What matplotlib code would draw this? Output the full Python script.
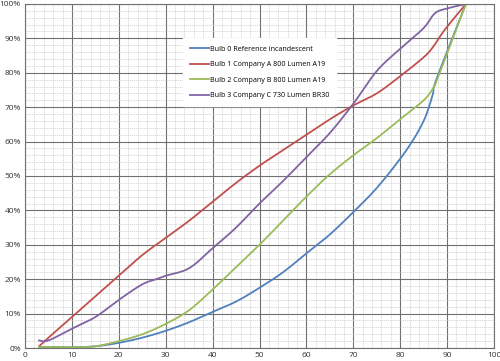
import numpy as np
import matplotlib.pyplot as plt
from matplotlib.ticker import MultipleLocator, FuncFormatter

# Data (x, percent)
bulb0_x = [3, 5, 10, 15, 20, 25, 30, 35, 40, 45, 50, 55, 60, 65, 70, 75, 80, 83, 85, 86, 87, 87.8, 94]
bulb0_y = [0, 0.3, 0.2, 0.5, 1.5, 3, 5, 7.5, 10.5, 13.5, 17.5, 22, 27.5, 33, 39.5, 46.5, 55, 61, 66, 69.5, 74, 78.4, 100]

bulb1_x = [3, 5, 10, 15, 20, 25, 30, 35, 40, 45, 50, 55, 60, 65, 70, 75, 80, 85, 87, 89.5, 94]
bulb1_y = [0.5, 3, 9, 15, 21, 27, 32, 37, 42.5, 48, 53, 57.5, 62, 66.5, 70.5, 74, 79, 84.5, 87.5, 92.5, 100]

bulb2_x = [3, 5, 10, 15, 20, 25, 30, 35, 40, 45, 50, 55, 60, 65, 70, 75, 80, 85, 87, 88, 94]
bulb2_y = [0.3, 0.3, 0.2, 0.5, 2, 4, 7, 11, 17, 23.5, 30, 37, 44, 50.5, 56, 61, 66.5, 72, 75.5, 78.5, 100]

bulb3_x = [3, 5, 10, 15, 20, 25, 28, 30, 35, 40, 45, 50, 55, 60, 65, 70, 75, 80, 85, 87.4, 90, 94]
bulb3_y = [2.2, 2.2, 5.6, 9, 14, 18.5, 20, 21, 23.2, 29, 35, 42, 48.5, 55.5, 62.5, 71, 80.5, 87, 93, 97.3, 98.7, 100]

labels = ['Bulb 0 Reference incandescent',
          'Bulb 1 Company A 800 Lumen A19',
          'Bulb 2 Company B 800 Lumen A19',
          'Bulb 3 Company C 730 Lumen BR30']
colors = ['#4F81BD', '#C0504D', '#9BBB59', '#8064A2']


def smooth(xs, ys, n=12):
    # Catmull-Rom through the points, like Excel's smoothed line
    p = np.column_stack([xs, ys]).astype(float)
    p = np.vstack([p[0], p, p[-1]])
    out = []
    t = np.linspace(0, 1, n, endpoint=False)[:, None]
    for i in range(1, len(p) - 2):
        p0, p1, p2, p3 = p[i - 1], p[i], p[i + 1], p[i + 2]
        seg = 0.5 * ((2 * p1) + (-p0 + p2) * t + (2 * p0 - 5 * p1 + 4 * p2 - p3) * t ** 2
                     + (-p0 + 3 * p1 - 3 * p2 + p3) * t ** 3)
        out.append(seg)
    out.append(p[-2][None, :])
    out = np.vstack(out)
    return out[:, 0], out[:, 1]


plt.rcParams['font.family'] = ['Open Sans', 'DejaVu Sans']

fig = plt.figure(figsize=(5, 3.61), dpi=100)
ax = fig.add_axes([0.05, 0.036, 0.938, 0.953])

series = [(bulb0_x, bulb0_y), (bulb1_x, bulb1_y), (bulb2_x, bulb2_y), (bulb3_x, bulb3_y)]
for (xs, ys), lab, c in zip(series, labels, colors):
    sx, sy = smooth(xs, ys)
    ax.plot(sx, sy, color=c, lw=1.3, label=lab, solid_joinstyle='round')

ax.set_xlim(0, 100)
ax.set_ylim(0, 100)
ax.xaxis.set_major_locator(MultipleLocator(10))
ax.xaxis.set_minor_locator(MultipleLocator(2))
ax.yaxis.set_major_locator(MultipleLocator(10))
ax.yaxis.set_minor_locator(MultipleLocator(2))
ax.yaxis.set_major_formatter(FuncFormatter(lambda v, p: f'{v:.0f}%'))

ax.grid(True, which='minor', color='#d0d0d0', lw=0.5, ls=(0, (2, 1)))
ax.grid(True, which='major', color='#707070', lw=0.8)
ax.set_axisbelow(True)
ax.tick_params(which='both', length=0)
ax.tick_params(labelsize=6, colors='#333333', pad=3)
for s in ax.spines.values():
    s.set_color('#707070')
    s.set_linewidth(0.8)

leg = ax.legend(loc='upper left', bbox_to_anchor=(0.33, 0.91), fontsize=5.1,
                frameon=True, fancybox=False, handlelength=2.6, handletextpad=0.1,
                labelspacing=1.2, borderpad=1.0)
leg.get_frame().set_edgecolor('white')
leg.get_frame().set_facecolor('white')
leg.get_frame().set_alpha(1)

fig.savefig('out.png', dpi=100)
